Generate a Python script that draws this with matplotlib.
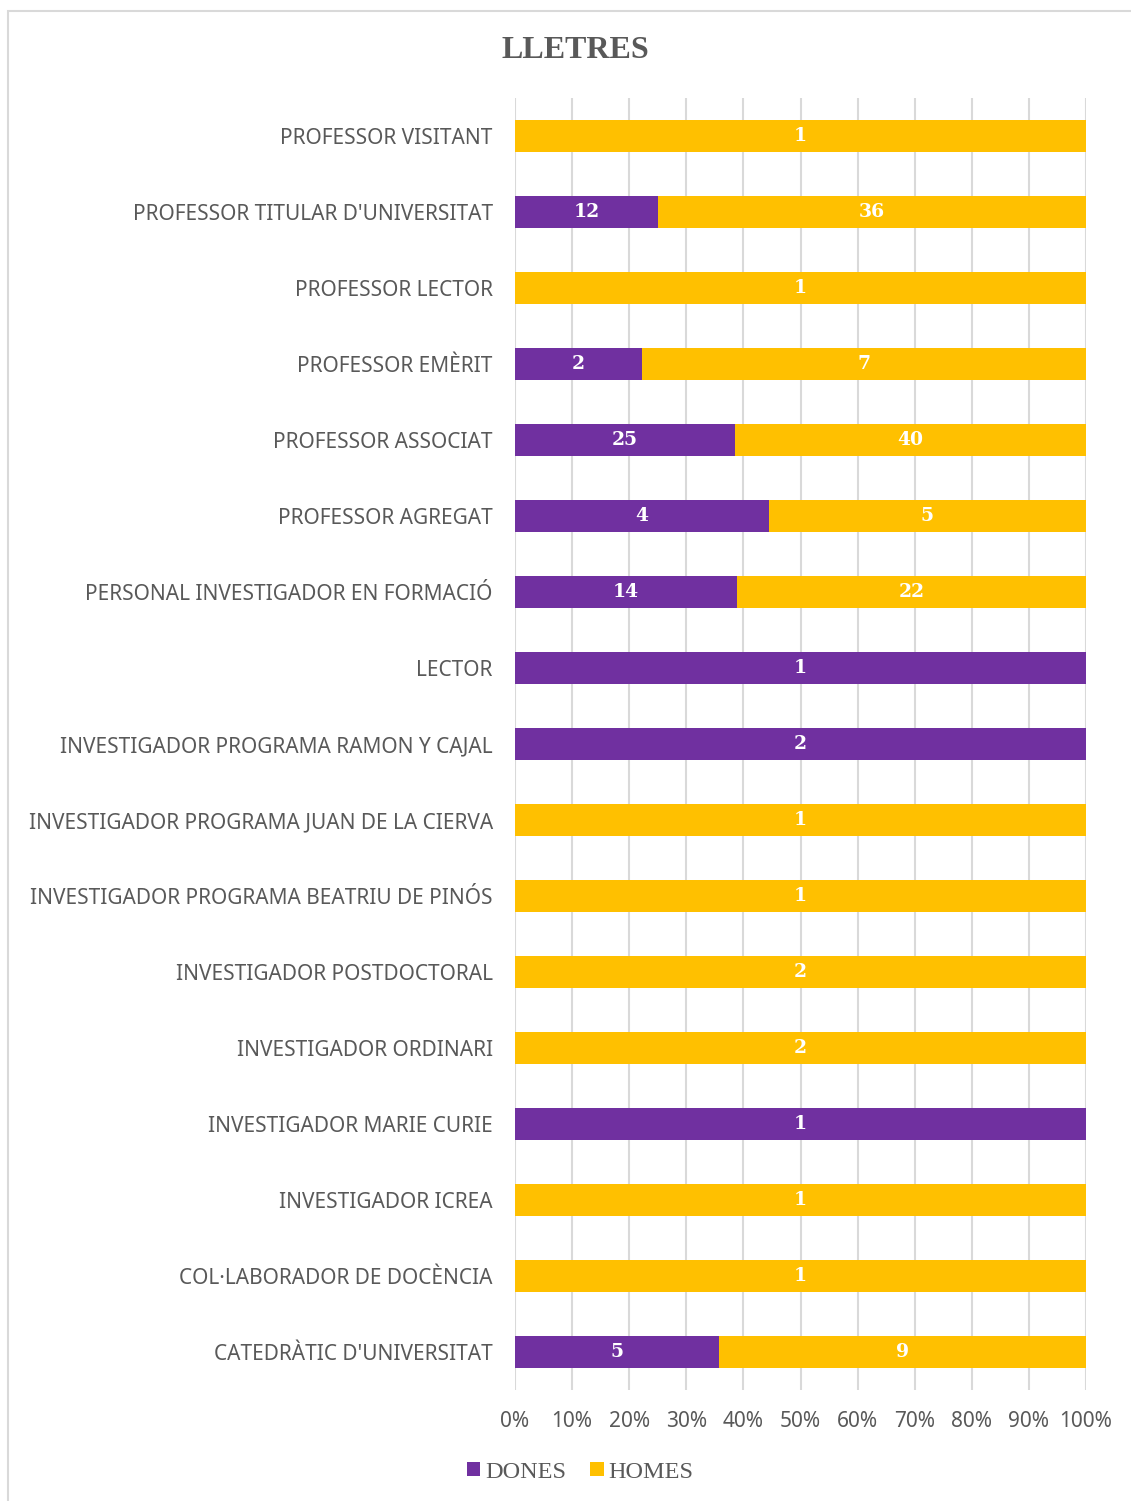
import numpy as np
import matplotlib.pyplot as plt
from matplotlib.patches import Rectangle

# categories top to bottom as shown
categories = [
    "PROFESSOR VISITANT",
    "PROFESSOR TITULAR D'UNIVERSITAT",
    "PROFESSOR LECTOR",
    "PROFESSOR EMÈRIT",
    "PROFESSOR ASSOCIAT",
    "PROFESSOR AGREGAT",
    "PERSONAL INVESTIGADOR EN FORMACIÓ",
    "LECTOR",
    "INVESTIGADOR PROGRAMA RAMON Y CAJAL",
    "INVESTIGADOR PROGRAMA JUAN DE LA CIERVA",
    "INVESTIGADOR PROGRAMA BEATRIU DE PINÓS",
    "INVESTIGADOR POSTDOCTORAL",
    "INVESTIGADOR ORDINARI",
    "INVESTIGADOR MARIE CURIE",
    "INVESTIGADOR ICREA",
    "COL·LABORADOR DE DOCÈNCIA",
    "CATEDRÀTIC D'UNIVERSITAT",
]
dones = [0, 12, 0, 2, 25, 4, 14, 1, 2, 0, 0, 0, 0, 1, 0, 0, 5]
homes = [1, 36, 1, 7, 40, 5, 22, 0, 0, 1, 1, 2, 2, 0, 1, 1, 9]

purple = "#7030A0"
gold = "#FFC000"
gray = "#595959"

d = np.array(dones, dtype=float)
h = np.array(homes, dtype=float)
tot = d + h
dp = d / tot
hp = h / tot
y = np.arange(len(categories))[::-1]

fig = plt.figure(figsize=(11.31, 15.01), dpi=100)
fig.patches.append(Rectangle((8 / 1131, -0.01), 1.1, 1 - 11 / 1501 + 0.01,
                             transform=fig.transFigure, fill=False,
                             edgecolor="#D9D9D9", linewidth=1.5))
ax = fig.add_axes([515 / 1131, 1 - 1390 / 1501, (1086 - 515) / 1131, 1292 / 1501])

ax.barh(y, dp, height=0.41, color=purple, label="DONES", zorder=3)
ax.barh(y, hp, left=dp, height=0.41, color=gold, label="HOMES", zorder=3)

for yi, a, b, pa, pb in zip(y, d, h, dp, hp):
    if a > 0:
        ax.text(pa / 2, yi, f"{int(a)}", ha="center", va="center", color="white",
                fontsize=13.5, fontweight="bold", family="DejaVu Serif", zorder=4)
    if b > 0:
        ax.text(pa + pb / 2, yi, f"{int(b)}", ha="center", va="center", color="white",
                fontsize=13.5, fontweight="bold", family="DejaVu Serif", zorder=4)

ax.set_xlim(0, 1)
ax.set_ylim(-0.5, len(categories) - 0.5)
ax.set_xticks(np.linspace(0, 1, 11))
ax.set_xticklabels([f"{i}%" for i in range(0, 101, 10)], family="Noto Sans",
                   fontsize=15, color=gray)
ax.set_yticks(y)
ax.set_yticklabels(categories, family="Noto Sans", fontsize=15, color=gray)
ax.tick_params(axis="both", length=0)
ax.tick_params(axis="x", pad=15)
ax.tick_params(axis="y", pad=16)
ax.grid(axis="x", color="#D9D9D9", linewidth=1.5, zorder=0)
for s in ax.spines.values():
    s.set_visible(False)

fig.text(575 / 1131, 1 - 50 / 1501, "LLETRES", ha="center", va="center",
         family="Liberation Serif", fontweight="bold", fontsize=23, color=gray)

fig.legend(loc="center", bbox_to_anchor=(580 / 1131, 1 - 1472 / 1501), ncol=2,
           frameon=False, prop={"family": "Liberation Serif", "size": 17.5},
           labelcolor=gray, handlelength=0.55, handleheight=0.55, handletextpad=0.2,
           columnspacing=1.0)

fig.savefig("out.png", dpi=100)
